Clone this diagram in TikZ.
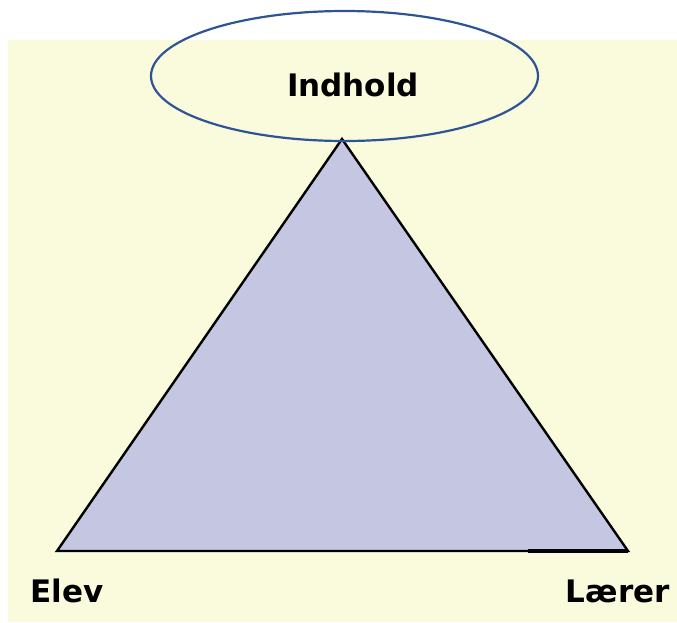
\documentclass[tikz,border=0pt]{standalone}
\usepackage{fontspec}
\setmainfont{DejaVu Sans}
\usetikzlibrary{shapes.geometric}
\definecolor{cream}{RGB}{250,250,220}
\definecolor{lav}{RGB}{197,199,226}
\definecolor{ellblue}{RGB}{47,84,150}
\begin{document}
\begin{tikzpicture}[x=1pt,y=-1pt,
  lbl/.style={font=\fontsize{31}{36}\selectfont\bfseries, inner sep=0pt, text=black}]
\useasboundingbox (0,0) rectangle (677,622);
\fill[cream] (8,40) rectangle (677,622);
\coordinate (apex) at (342,139);
\coordinate (bl) at (57,551);
\coordinate (br) at (628,551);
\coordinate (thick) at (528,551);
\filldraw[fill=lav, draw=black, line width=2.4pt, line join=miter] (apex) -- (br) -- (bl) -- cycle;
\draw[line width=3.4pt] (thick) -- (br);
\node[draw=ellblue, line width=2.2pt, ellipse, minimum width=387pt, minimum height=130pt, inner sep=0pt] (ell) at (344.5,76) {};
\node[lbl, anchor=base] (ind) at (353,96) {Indhold};
\node[lbl, anchor=base west] (elev) at (30,602) {Elev};
\node[lbl, anchor=base east] (laerer) at (670,602) {Lærer};
\end{tikzpicture}
\end{document}
